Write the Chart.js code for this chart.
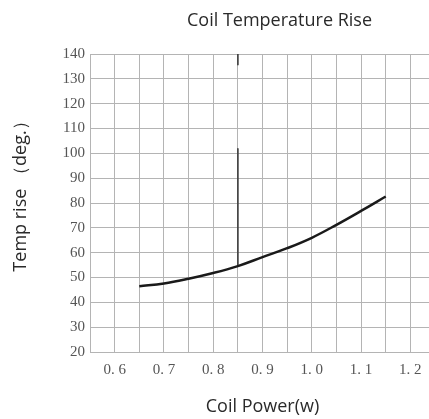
<!DOCTYPE html>
<html>
<head>
<meta charset="utf-8">
<script src="https://cdn.jsdelivr.net/npm/chart.js@4"></script>
<style>
  body { margin: 0; overflow: hidden; background: #fff; }
  #wrap { width: 444px; height: 419px; }
</style>
</head>
<body>
<div id="wrap"><canvas id="chart"></canvas></div>
<script>
// coil power (w) and temperature rise (deg.)
const power = [0.65, 0.7, 0.75, 0.8, 0.85, 0.9, 0.95, 1.0, 1.05, 1.1, 1.15];
const tempRise = [46.5, 47.6, 49.5, 51.8, 54.6, 58.2, 61.8, 66, 71.2, 76.8, 82.6];

// the dark marker line at 0.85 w (two visible pieces)
const markerX = [0.85, 0.85];
const markerTop = [140, 135.5];
const markerLow = [102, 54.6];

const titleText = 'Coil Temperature Rise';
const yTitleText = 'Temp rise （deg.）';
const xTitleText = 'Coil Power(w)';

const pts = (xs, ys) => xs.map((x, i) => ({ x: x, y: ys[i] }));

// main title and y title are placed a little off-centre in the original
const textPlugin = {
  id: 'textPlugin',
  afterDraw(chart) {
    const ctx = chart.ctx;
    const a = chart.chartArea;
    ctx.save();
    ctx.fillStyle = '#2a2a2a';
    ctx.font = '18px "Open Sans"';
    ctx.textAlign = 'center';
    ctx.textBaseline = 'middle';
    ctx.fillText(titleText, (a.left + a.right) / 2 + 17, a.top - 33);
    ctx.translate(a.left - 69, (a.top + a.bottom) / 2 - 11);
    ctx.rotate(-Math.PI / 2);
    ctx.fillText(yTitleText, 0, 0);
    ctx.restore();
  }
};

new Chart('chart', {
  type: 'scatter',
  data: {
    datasets: [
      {
        data: pts(power, tempRise),
        showLine: true,
        borderColor: '#1a1a1a',
        borderWidth: 2.5,
        pointRadius: 0,
        tension: 0.4
      },
      {
        data: pts(markerX, markerTop),
        showLine: true,
        borderColor: '#444',
        borderWidth: 1,
        pointRadius: 0
      },
      {
        data: pts(markerX, markerLow),
        showLine: true,
        borderColor: '#444',
        borderWidth: 1,
        pointRadius: 0
      }
    ]
  },
  options: {
    responsive: true,
    maintainAspectRatio: false,
    animation: false,
    layout: { padding: { top: 54, right: 0, left: 0, bottom: 0 } },
    plugins: {
      legend: { display: false },
      tooltip: { enabled: false }
    },
    scales: {
      x: {
        type: 'linear',
        min: 0.55,
        max: 1.25,
        afterFit: (s) => { s.height = 67; },
        grid: { color: '#b4b4b4', drawTicks: false },
        border: { color: '#b4b4b4' },
        ticks: {
          stepSize: 0.05,
          padding: 9,
          maxRotation: 0,
          autoSkip: false,
          color: '#555',
          font: { family: '"Liberation Serif"', size: 15 },
          callback: (v) => {
            const t = Math.round(v * 100);
            if (t % 10 !== 0) return '';
            return (t / 100).toFixed(1).replace('.', '. ');
          }
        },
        title: {
          display: true,
          text: xTitleText,
          color: '#2a2a2a',
          font: { family: '"Open Sans"', size: 18 },
          padding: { top: 0, bottom: 1 }
        }
      },
      y: {
        min: 20,
        max: 140,
        afterFit: (s) => { s.width = 90; },
        grid: { color: '#b4b4b4', drawTicks: false },
        border: { color: '#b4b4b4' },
        ticks: {
          stepSize: 10,
          padding: 5,
          color: '#555',
          font: { family: '"Liberation Serif"', size: 15 }
        }
      }
    }
  },
  plugins: [textPlugin]
});
</script>
</body>
</html>
